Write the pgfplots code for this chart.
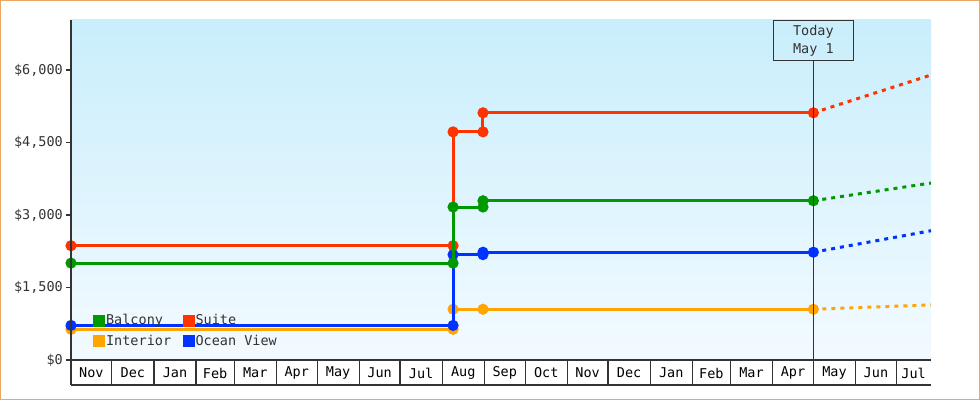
\documentclass[border=0pt]{standalone}
\usepackage{fontspec}
\setmainfont{DejaVu Sans Mono}
\usepackage{pgfplots}
\pgfplotsset{compat=1.18}

\definecolor{cBal}{HTML}{009900}
\definecolor{cSui}{HTML}{FF3300}
\definecolor{cInt}{HTML}{FFA500}
\definecolor{cOce}{HTML}{0033FF}
\definecolor{axgray}{HTML}{333333}
\definecolor{framec}{HTML}{E8A862}
\definecolor{bgtop}{HTML}{C9EEFC}
\definecolor{bgbot}{HTML}{F3FAFF}

\begin{document}
\begin{tikzpicture}[font=\fontsize{13.5bp}{15bp}\selectfont]
\begin{axis}[
    at={(0,0)}, anchor=south west,
    scale only axis, width=860bp, height=340bp,
    xmin=0, xmax=632.5, ymin=0, ymax=7035,
    axis line style={draw=none},
    axis background/.style={top color=bgtop, bottom color=bgbot, draw=none},
    clip mode=individual,
    tick align=outside,
    major tick length=5bp,
    ytick pos=left, xtick pos=bottom,
    ytick={0,1500,3000,4500,6000},
    yticklabels={{\$0},{\$1,500},{\$3,000},{\$4,500},{\$6,000}},
    ytick style={axgray, line width=1.5bp},
    yticklabel style={text=axgray, inner sep=0pt, anchor=east, xshift=-3bp},
    xtick={15,45.5,76.5,106,135.5,166,196.5,227,257.5,288.5,319,349.5,380,410.5,441.5,471,500.5,531,561.5,592,619.75},
    xticklabels={Nov,Dec,Jan,Feb,Mar,Apr,May,Jun,Jul,Aug,Sep,Oct,Nov,Dec,Jan,Feb,Mar,Apr,May,Jun,Jul},
    xtick style={draw=none},
    xticklabel style={text=black, inner sep=0pt, anchor=center, yshift=-8bp},
    legend columns=2,
    legend cell align=left,
    legend style={at={(rel axis cs:0.0256,0.139)}, anchor=north west,
        draw=none, fill=none, inner sep=0pt,
        nodes={inner sep=1.5bp, text=axgray},
        row sep=6bp,
        /tikz/every even column/.append style={column sep=10bp}},
    legend image code/.code={\fill[#1] (0bp,-5.5bp) rectangle (11bp,5.5bp);},
]
% interior
\addplot[cInt, line width=3bp, mark=*, mark size=4bp, forget plot] coordinates {
    (0,635) (281,635) (281,1050) (303,1050) (546,1050)};
\addplot[cInt, line width=3bp, dash pattern=on 4bp off 5bp, forget plot] coordinates {
    (546,1050) (632.5,1140)};
% ocean view
\addplot[cOce, line width=3bp, mark=*, mark size=4bp, forget plot] coordinates {
    (0,715) (281,715) (281,2180) (303,2180) (303,2230) (546,2230)};
\addplot[cOce, line width=3bp, dash pattern=on 4bp off 5bp, forget plot] coordinates {
    (546,2230) (632.5,2675)};
% suite
\addplot[cSui, line width=3bp, mark=*, mark size=4bp, forget plot] coordinates {
    (0,2365) (281,2365) (281,4720) (303,4720) (303,5115) (546,5115)};
\addplot[cSui, line width=3bp, dash pattern=on 4bp off 5bp, forget plot] coordinates {
    (546,5115) (632.5,5897)};
% balcony
\addplot[cBal, line width=3bp, mark=*, mark size=4bp, forget plot] coordinates {
    (0,2005) (281,2005) (281,3165) (303,3165) (303,3295) (546,3295)};
\addplot[cBal, line width=3bp, dash pattern=on 4bp off 5bp, forget plot] coordinates {
    (546,3295) (632.5,3662)};

\addlegendimage{cBal}\addlegendentry{Balcony}
\addlegendimage{cSui}\addlegendentry{Suite}
\addlegendimage{cInt}\addlegendentry{Interior}
\addlegendimage{cOce}\addlegendentry{Ocean View}

% month cells under the axis
\pgfplotsinvokeforeach{30,61,92,120,151,181,212,242,273,304,334,365,395,426,457,485,516,546,577,607}{
    \draw[axgray, line width=1.2bp] (axis cs:#1,0) -- ([yshift=-25bp]axis cs:#1,0);
}
\draw[axgray, line width=1.2bp] (rel axis cs:0,0) -- (rel axis cs:1,0);
\draw[axgray, line width=1.2bp] ([yshift=-25bp]rel axis cs:0,0) -- ([yshift=-25bp]rel axis cs:1,0);
\draw[axgray, line width=2.5bp] (rel axis cs:0,1) -- ([yshift=-25bp]rel axis cs:0,0);

% today marker
\draw[axgray, line width=1bp] (axis cs:546,0) -- ([yshift=-40bp]axis cs:546,7035);
\node[draw=axgray, line width=1bp, minimum width=80bp, minimum height=40bp,
      anchor=north, inner sep=0pt, align=center, text=axgray,
      font=\fontsize{13.5bp}{18bp}\selectfont] at (axis cs:546,7035) {Today\\May 1};
\end{axis}
\draw[framec, line width=1.5bp] (-70.25bp,-39.25bp) rectangle (908.25bp,359.25bp);
\pgfresetboundingbox
\path (-71bp,-40bp) rectangle (909bp,360bp);
\end{tikzpicture}
\end{document}
